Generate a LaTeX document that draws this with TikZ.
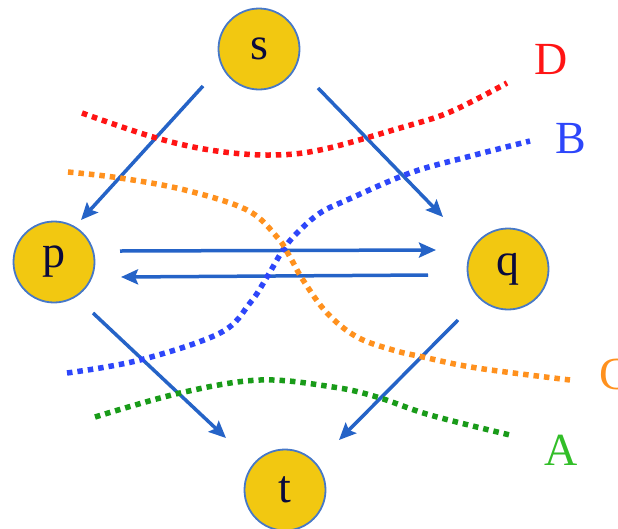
\documentclass[tikz,border=0pt]{standalone}
\usepackage{fontspec}
\setmainfont{Liberation Serif}
\usetikzlibrary{arrows.meta,calc}
\definecolor{arrblue}{RGB}{37,99,199}
\definecolor{nodefill}{RGB}{242,200,17}
\definecolor{nodeedge}{RGB}{70,120,200}
\definecolor{txtnavy}{RGB}{10,10,60}
\definecolor{cutred}{RGB}{255,20,20}
\definecolor{cutblue}{RGB}{45,70,250}
\definecolor{cutorange}{RGB}{255,145,30}
\definecolor{cutgreen}{RGB}{25,155,25}
\definecolor{labgreen}{RGB}{50,190,40}
\tikzset{
  vert/.style={circle,draw=nodeedge,line width=1.8pt,fill=nodefill,minimum size=81pt,inner sep=0pt,
    text=txtnavy,font=\fontsize{46}{46}\selectfont},
  arr/.style={draw=arrblue,line width=3.5pt,-{Stealth[length=17pt,width=15pt,inset=3pt]}},
  cutline/.style={line width=5.5pt,dash pattern=on 5.5pt off 5pt,line cap=butt},
  cutlabel/.style={font=\fontsize{46}{46}\selectfont,inner sep=0pt}
}
\begin{document}
\begin{tikzpicture}[x=1pt,y=-1pt]
\useasboundingbox (0,0) rectangle (618,528);
\clip (0,0) rectangle (618,528);
% nodes
\node[vert] (s) at (259,49) {s};
\node[vert] (p) at (54,262) {p};
\node[vert] (q) at (508,269) {q};
\node[vert] (t) at (285,490) {t};
% arrows
\draw[arr] ($(s)+(-56,37)$) -- ($(p)+(27,-42)$);
\draw[arr] ($(s)+(59,39)$) -- ($(q)+(-65,-52)$);
\draw[arr] ($(p)+(66,-11)$) -- ($(q)+(-72,-19)$);
\draw[arr] ($(q)+(-80,6)$) -- ($(p)+(67,15)$);
\draw[arr] ($(p)+(39,51)$) -- ($(t)+(-59,-52)$);
\draw[arr] ($(q)+(-50,51)$) -- ($(t)+(54,-50)$);
% cut curves
\draw[cutline,cutred] plot[smooth,tension=0.6] coordinates {(82,113) (153,137) (210,150) (267,155) (320,150) (400,128) (450,112) (507,83)};
\draw[cutline,cutblue] plot[smooth,tension=0.6] coordinates {(67,373) (140,360) (220,333) (250,303) (267,277) (283,250) (297,233) (320,213) (347,200) (410,173) (467,157) (530,141)};
\draw[cutline,cutorange] plot[smooth,tension=0.6] coordinates {(68,172) (120,178) (185,190) (247,210) (277,237) (290,257) (303,280) (327,313) (357,337) (393,350) (423,357) (477,368) (570,380)};
\draw[cutline,cutgreen] plot[smooth,tension=0.6] coordinates {(95,417) (180,393) (260,380) (333,387) (377,397) (430,415) (510,435)};
% labels
\node[cutlabel,text=cutred] (labD) at (551,59) {D};
\node[cutlabel,text=cutblue] (labB) at (571,139) {B};
\node[cutlabel,text=cutorange] (labC) at (615,374) {C};
\node[cutlabel,text=labgreen] (labA) at (561,450) {A};
\end{tikzpicture}
\end{document}
